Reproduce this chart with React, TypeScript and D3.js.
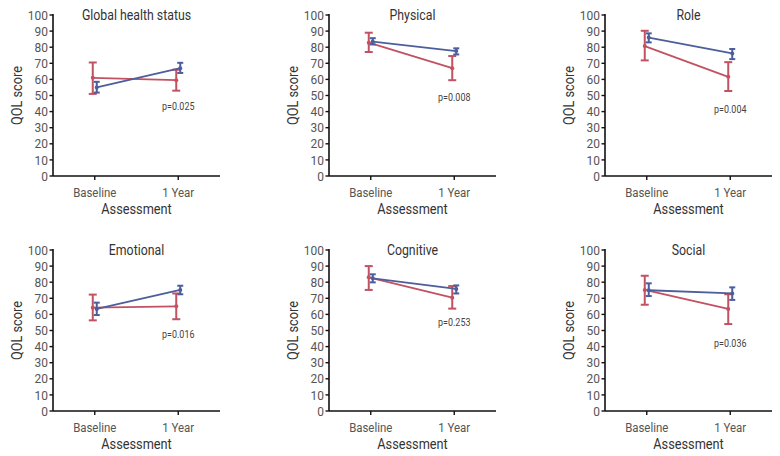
import React from "react"
import * as d3 from "d3"

const panelTitles = ["Global health status", "Physical", "Role", "Emotional", "Cognitive", "Social"]
const timepoints = ["Baseline", "1 Year"]

// red group: mean, lower and upper ends of the error bar at [Baseline, 1 Year]
const redMean = [[61, 59.5], [82.8, 67], [80.7, 61.6], [64.2, 65], [83, 70.4], [75.2, 63.4]]
const redLow = [[51, 53], [77, 59.5], [71.8, 52.8], [56.3, 57], [75.2, 63.6], [66, 54]]
const redHigh = [[70.5, 66], [89, 74.5], [90.2, 70.7], [72.3, 73], [90, 77.6], [84, 72.5]]

// blue group
const blueMean = [[55, 67], [83.5, 77.6], [86, 76.1], [63.4, 75.2], [82.4, 75.8], [75, 73]]
const blueLow = [[51.8, 64], [81.7, 75.5], [83, 72.6], [59.6, 72.5], [79.9, 73], [71.4, 69]]
const blueHigh = [[58.5, 70.3], [85.6, 79.3], [88.6, 78.9], [67.3, 77.8], [84.9, 78], [79.3, 76.8]]

const pLabels = ["p=0.025", "p=0.008", "p=0.004", "p=0.016", "p=0.253", "p=0.036"]
const pLabelLevel = [43, 49, 41.6, 47.8, 55.3, 42.2]

const yTicks = d3.range(0, 101, 10)

const WIDTH = 780
const HEIGHT = 456
const FONT = "Roboto, 'DejaVu Sans Condensed', sans-serif"
const RED = "#c25162"
const BLUE = "#4c5e9c"

// condensed text: the source uses a narrow grotesque, so squeeze Roboto a bit
const CText = ({
  x,
  y,
  size,
  anchor = "middle",
  sx = 0.88,
  rotate = 0,
  fill = "#333",
  dy,
  children,
}: {
  x: number
  y: number
  size: number
  anchor?: string
  sx?: number
  rotate?: number
  fill?: string
  dy?: string
  children: React.ReactNode
}) => (
  <text
    transform={`translate(${x},${y}) rotate(${rotate}) scale(${sx},1)`}
    textAnchor={anchor}
    fontSize={size}
    fill={fill}
    dy={dy}
  >
    {children}
  </text>
)

const Panel = ({ idx }: { idx: number }) => {
  const col = idx % 3
  const row = Math.floor(idx / 3)
  const x0 = 53 + col * 276
  const top = 15 + row * 235
  const plotW = 167
  const plotH = 161

  const x = d3.scalePoint().domain(timepoints).range([x0, x0 + plotW]).padding(0.5)
  const y = d3.scaleLinear().domain([0, 100]).range([top + plotH, top])

  const series = [
    { mean: redMean[idx], low: redLow[idx], high: redHigh[idx], color: RED, dx: -2, cap: 4 },
    { mean: blueMean[idx], low: blueLow[idx], high: blueHigh[idx], color: BLUE, dx: 2, cap: 3 },
  ]

  const line = d3
    .line<[string, number]>()
    .x((d) => x(d[0])!)
    .y((d) => y(d[1]))

  return (
    <g>
      {/* y axis */}
      <line x1={x0} x2={x0} y1={y(100) - 1} y2={y(0)} stroke="#111" strokeWidth={1.6} />
      {yTicks.map((t) => (
        <g key={t}>
          <line x1={x0 - 3.5} x2={x0} y1={y(t)} y2={y(t)} stroke="#111" strokeWidth={1.4} />
          <CText x={x0 - 5} y={y(t)} dy="0.36em" anchor="end" size={13} sx={0.92} fill="#555">
            {t}
          </CText>
        </g>
      ))}
      {/* x axis */}
      <line x1={x0} x2={x0 + plotW} y1={y(0)} y2={y(0)} stroke="#111" strokeWidth={1.6} />
      {timepoints.map((t) => (
        <g key={t}>
          <line x1={x(t)} x2={x(t)} y1={y(0)} y2={y(0) + 4} stroke="#111" strokeWidth={1.4} />
          <CText x={x(t)!} y={y(0) + 21} size={13} fill="#555">
            {t}
          </CText>
        </g>
      ))}
      <CText x={x0 + plotW / 2} y={y(0) + 37.5} size={14.5} fill="#333">
        Assessment
      </CText>
      <CText x={x0 - 31} y={top + plotH / 2} rotate={-90} size={14.5} fill="#333">
        QOL score
      </CText>
      <CText x={x0 + plotW / 2} y={top + 4.5} size={14} fill="#333">
        {panelTitles[idx]}
      </CText>
      <CText x={x(timepoints[1])!} y={y(pLabelLevel[idx])} dy="0.35em" size={10.5} sx={0.85} fill="#444">
        {pLabels[idx]}
      </CText>

      {series.map((s, si) => (
        <g key={si} transform={`translate(${s.dx},0)`}>
          <path
            d={line(timepoints.map((t, i) => [t, s.mean[i]] as [string, number])) || ""}
            fill="none"
            stroke={s.color}
            strokeWidth={1.8}
          />
          {timepoints.map((t, i) => {
            const cx = x(t)!
            return (
              <g key={t} stroke={s.color} strokeWidth={2}>
                <line x1={cx} x2={cx} y1={y(s.low[i])} y2={y(s.high[i])} />
                <line x1={cx - s.cap} x2={cx + s.cap} y1={y(s.low[i])} y2={y(s.low[i])} />
                <line x1={cx - s.cap} x2={cx + s.cap} y1={y(s.high[i])} y2={y(s.high[i])} />
                <circle cx={cx} cy={y(s.mean[i])} r={2} fill={s.color} stroke="none" />
              </g>
            )
          })}
        </g>
      ))}
    </g>
  )
}

export default function App() {
  return (
    <div style={{ position: "absolute", left: 0, top: 0, width: WIDTH, height: HEIGHT, background: "#fff" }}>
      <svg width={WIDTH} height={HEIGHT} style={{ display: "block", fontFamily: FONT }}>
        <rect width={WIDTH} height={HEIGHT} fill="#fff" />
        {panelTitles.map((_, i) => (
          <Panel key={i} idx={i} />
        ))}
      </svg>
    </div>
  )
}
